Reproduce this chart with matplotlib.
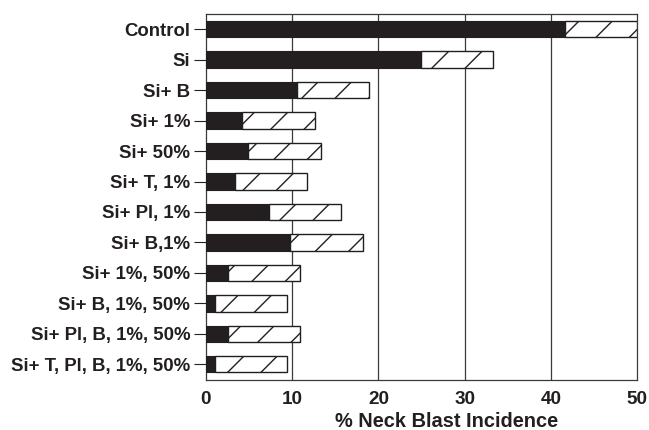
import matplotlib
matplotlib.use("Agg")
import matplotlib.pyplot as plt
import numpy as np

categories = ["Control", "Si", "Si+ B", "Si+ 1%", "Si+ 50%", "Si+ T, 1%",
              "Si+ Pl, 1%", "Si+ B,1%", "Si+ 1%, 50%", "Si+ B, 1%, 50%",
              "Si+ Pl, B, 1%, 50%", "Si+ T, Pl, B, 1%, 50%"]
black_values = [41.7, 24.9, 10.5, 4.2, 4.9, 3.4, 7.3, 9.8, 2.6, 1.0, 2.6, 1.0]
total_values = [50.0, 33.3, 18.9, 12.6, 13.3, 11.7, 15.7, 18.2, 10.9, 9.35, 10.9, 9.35]
hatched_values = [t - b for t, b in zip(total_values, black_values)]
xticks = [0, 10, 20, 30, 40, 50]

dark = "#231f20"
plt.rcParams["font.family"] = ["Liberation Sans", "DejaVu Sans"]
plt.rcParams["font.weight"] = "bold"
plt.rcParams["hatch.linewidth"] = 0.5
plt.rcParams["hatch.color"] = dark

fig = plt.figure(figsize=(6.49 / 2, 4.30 / 2), dpi=200)
ax = fig.add_axes([206 / 649, 1 - 379.5 / 430, 431 / 649, (379.5 - 14) / 430])

y = np.arange(len(categories))
ax.barh(y, black_values, height=0.54, color=dark, edgecolor=dark, linewidth=0.4, zorder=3)
ax.barh(y, hatched_values, left=black_values, height=0.54, facecolor="white",
        edgecolor=dark, linewidth=0.5, hatch="//", zorder=3)

ax.set_xlim(0, 50)
ax.set_ylim(11.5, -0.5)
ax.set_yticks(y)
ax.set_yticklabels(categories, fontsize=6.7, fontweight="bold", color=dark)
ax.set_xticks(xticks)
ax.set_xticklabels([str(v) for v in xticks], fontsize=6.8, fontweight="bold", color=dark)
ax.tick_params(axis="y", length=4.5, width=0.4, pad=1.2, color=dark)
ax.tick_params(axis="x", length=0, pad=4.2)

for v in xticks[1:-1]:
    ax.axvline(v, color="#3a3a3a", linewidth=0.45, zorder=1)

for s in ax.spines.values():
    s.set_linewidth(0.45)
    s.set_color("#3a3a3a")

ax.set_xlabel("% Neck Blast Incidence", fontsize=7.2, fontweight="bold", color=dark, labelpad=1.5)
ax.xaxis.set_label_coords(0.558, -0.088)

fig.savefig("out.png", dpi=200)
